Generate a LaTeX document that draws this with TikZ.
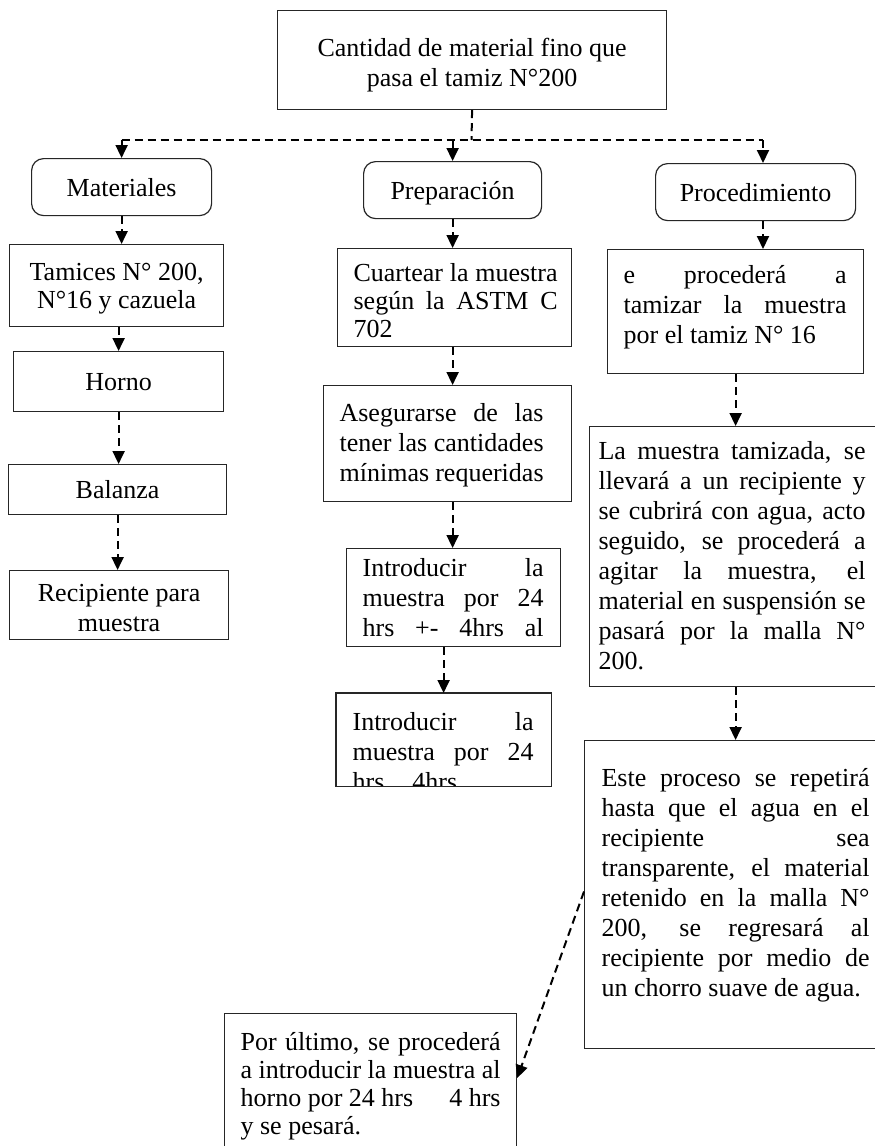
\documentclass[tikz,border=0pt]{standalone}
\usepackage{fontspec}
\setmainfont{Liberation Serif}
\usetikzlibrary{arrows.meta,calc}
\newcommand{\jl}[1]{\makebox[\linewidth][s]{#1}}
% justified / left text: #1 W, #2 H, #3 left pad, #4 text width, #5 first baseline, #6 baselineskip, #7 body
\newcommand{\bxj}[7]{\parbox[c][#2pt][t]{#1pt}{\hspace*{#3pt}\parbox[t]{#4pt}{\fontsize{26}{#6}\selectfont\rule{0pt}{#5pt}#7}}}
% centred text: #1 W, #2 H, #3 first baseline, #4 baselineskip, #5 body
\newcommand{\bxc}[5]{\parbox[c][#2pt][t]{#1pt}{\centering\fontsize{26}{#4}\selectfont\rule{0pt}{#3pt}#5}}
\begin{document}
\begin{tikzpicture}[x=1pt,y=-1pt,
  font=\fontsize{26}{30}\selectfont,
  box/.style={draw=black!85, line width=1.2pt, inner sep=0pt, anchor=north west},
  sbox/.style={box, text height=18pt, text depth=0pt},
  rbox/.style={sbox, rounded corners=12pt},
  bline/.style={draw=black!85, line width=1.2pt},
  dl/.style={line width=2pt, dash pattern=on 8pt off 5pt},
  arr/.style={dl, -{Triangle[width=12pt,length=13pt]}}]
\fill[white] (0,0) rectangle (875,1146);
\useasboundingbox (0,0) rectangle (875,1146);

% top
\node[box] (top) at (277,10) {\bxc{389}{99}{46}{30}{Cantidad de material fino que\\pasa el tamiz N°200}};
\node[rbox, minimum width=180pt, minimum height=57pt] (mat) at (31,158) {Materiales};
\node[rbox, minimum width=178pt, minimum height=57pt] (prep) at (363,161) {Preparación};
\node[rbox, minimum width=200pt, minimum height=57pt] (proc) at (655,163) {Procedimiento};

% left column
\node[box] (tam) at (9,244) {\bxc{214}{82}{36}{28}{Tamices N° 200,\\N°16 y cazuela}};
\node[sbox, minimum width=210pt, minimum height=60pt] (hor) at (13,351) {Horno};
\node[sbox, minimum width=218pt, minimum height=50pt] (bal) at (8,464) {Balanza};
\node[box] (rec) at (9,570) {\bxc{219}{69}{31}{30}{Recipiente para\\muestra}};

% middle column
\node[box] (cua) at (337,248) {\bxj{234}{98}{16}{204}{33}{28}{\jl{Cuartear la muestra}\\\jl{según la ASTM C}\\702}};
\node[box] (ase) at (323,385) {\bxj{248}{116}{16}{204}{36}{30}{\jl{Asegurarse de las}\\\jl{tener las cantidades}\\mínimas requeridas}};
\node[box] (in1) at (346,548) {\bxj{214}{98}{16}{181}{28}{30}{\jl{Introducir la}\\\jl{muestra por 24}\\\jl{hrs +- 4hrs al}}};
\begin{scope}
\clip (336,693) rectangle (550,785);
\node[box, draw=none] (in2) at (336,693) {\bxj{214}{92}{16}{181}{37}{30}{\jl{Introducir la}\\\jl{muestra por 24}\\hrs\hspace{28pt}4hrs}};
\end{scope}
\draw[bline] (in2.north west) rectangle (in2.south east);

% right column
\node[box] (ep) at (607,249) {\bxj{256}{124}{16}{223}{34}{30}{\jl{e procederá a}\\\jl{tamizar la muestra}\\por el tamiz N° 16}};
\node[box] (lm) at (589,426) {\bxj{289}{260}{9}{267}{33}{30}{\jl{La muestra tamizada, se}\\\jl{llevará a un recipiente y}\\\jl{se cubrirá con agua, acto}\\\jl{seguido, se procederá a}\\\jl{agitar la muestra, el}\\\jl{material en suspensión se}\\\jl{pasará por la malla N°}\\200.}};
\node[box] (es) at (584,740) {\bxj{294}{308}{17}{268}{46}{30}{\jl{Este proceso se repetirá}\\\jl{hasta que el agua en el}\\\jl{recipiente sea}\\\jl{transparente, el material}\\\jl{retenido en la malla N°}\\\jl{200, se regresará al}\\\jl{recipiente por medio de}\\un chorro suave de agua.}};
\node[box] (fin) at (224,1013) {\bxj{292}{150}{16}{260}{37}{28}{\jl{Por último, se procederá}\\\jl{a introducir la muestra al}\\\jl{horno por 24 hrs\hfill 4 hrs}\\y se pesará.}};

% connectors
\coordinate (hub) at (471.5,140);
\coordinate (pin) at (763,163);
\draw[dl] (top.south) -- (hub);
\draw[dl] (mat.north |- hub) -- (pin |- hub);
\draw[arr] (mat.north |- hub) -- (mat.north);
\draw[arr] (prep.north |- hub) -- (prep.north);
\draw[arr] (pin |- hub) -- (pin);

\draw[arr] (mat.south) -- (mat.south |- tam.north);
\draw[arr] (hor.north |- tam.south) -- (hor.north);
\draw[arr] (hor.south) -- (hor.south |- bal.north);
\draw[arr] (bal.south) -- (bal.south |- rec.north);

\draw[arr] (prep.south) -- (prep.south |- cua.north);
\draw[arr] (prep.south |- cua.south) -- (prep.south |- ase.north);
\draw[arr] (prep.south |- ase.south) -- (prep.south |- in1.north);
\draw[arr] (in2.north |- in1.south) -- (in2.north);

\draw[arr] (pin |- proc.south) -- (pin |- ep.north);
\draw[arr] (ep.south) -- (ep.south |- lm.north);
\draw[arr] (ep.south |- lm.south) -- (ep.south |- es.north);
\draw[arr] ($(es.north west)!0.49!(es.south west)$) -- ($(fin.north east)!0.43!(fin.south east)$);
\end{tikzpicture}
\end{document}
